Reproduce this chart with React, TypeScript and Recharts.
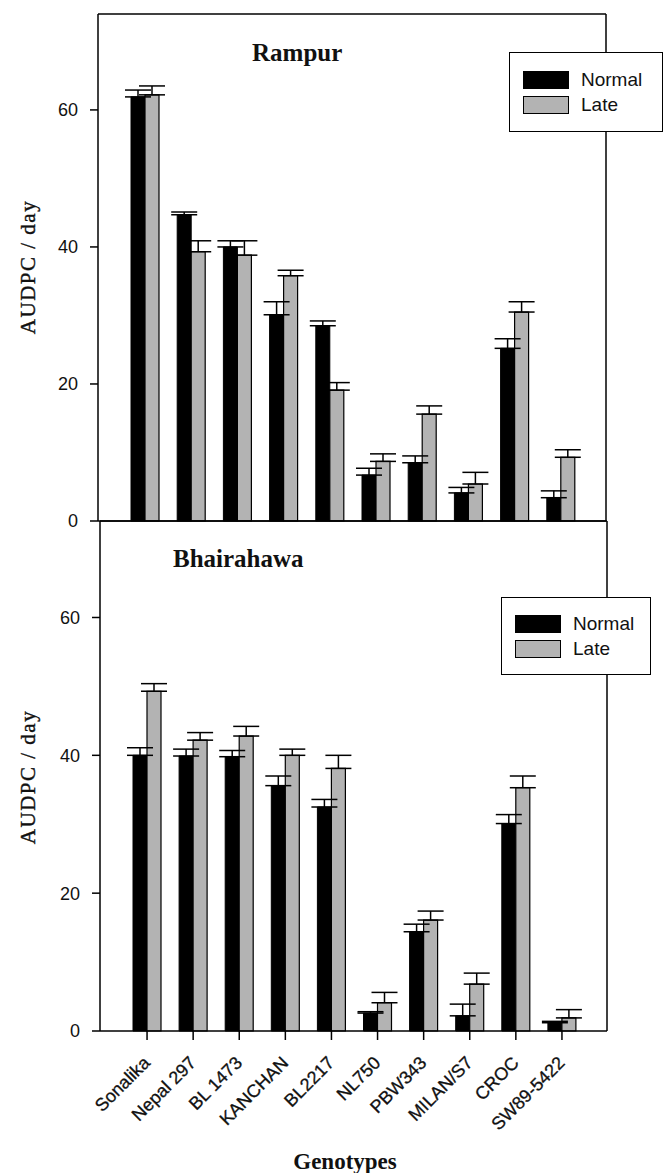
import React from 'react';
import { Bar, BarChart, CartesianGrid, ErrorBar, Legend, XAxis, YAxis } from 'recharts';

const genotypes = ['Sonalika', 'Nepal 297', 'BL 1473', 'KANCHAN', 'BL2217', 'NL750', 'PBW343', 'MILAN/S7', 'CROC', 'SW89-5422'];

// Rampur
const rampurNormal = [61.9, 44.7, 40.0, 30.1, 28.5, 6.7, 8.5, 4.1, 25.2, 3.4];
const rampurNormalErr = [1.0, 0.4, 0.9, 1.9, 0.7, 1.0, 1.0, 0.8, 1.4, 1.0];
const rampurLate = [62.2, 39.3, 38.8, 35.8, 19.1, 8.7, 15.6, 5.4, 30.5, 9.3];
const rampurLateErr = [1.3, 1.6, 2.1, 0.8, 1.1, 1.1, 1.2, 1.7, 1.5, 1.1];

// Bhairahawa
const bhaiNormal = [40.0, 39.9, 39.8, 35.6, 32.5, 2.6, 14.4, 2.2, 30.1, 1.2];
const bhaiNormalErr = [1.1, 1.0, 0.9, 1.4, 1.1, 0.2, 1.1, 1.7, 1.3, 0.2];
const bhaiLate = [49.3, 42.2, 42.8, 40.0, 38.1, 4.1, 16.1, 6.8, 35.3, 1.9];
const bhaiLateErr = [1.1, 1.1, 1.4, 0.9, 1.9, 1.5, 1.3, 1.6, 1.7, 1.2];

const yTicks = [0, 20, 40, 60];
const yMax = 74;

const SANS = '"Liberation Sans", Arial, sans-serif';
const SERIF = '"Liberation Serif", "Times New Roman", serif';
const LATE_FILL = '#b3b3b3';

const build = (normal: number[], normalErr: number[], late: number[], lateErr: number[]) =>
  genotypes.map((g, i) => ({
    name: g,
    normal: normal[i],
    normalErr: [0, normalErr[i]],
    late: late[i],
    lateErr: [0, lateErr[i]],
  }));

const rampurData = build(rampurNormal, rampurNormalErr, rampurLate, rampurLateErr);
const bhaiData = build(bhaiNormal, bhaiNormalErr, bhaiLate, bhaiLateErr);

const LegendBox = ({ pad }: { pad: number }) => (
  <div
    style={{
      border: '1.5px solid #000',
      background: '#fff',
      padding: `${pad}px 0 ${pad}px 13px`,
      fontFamily: SANS,
      fontSize: 19,
      color: '#111',
      boxSizing: 'border-box',
    }}
  >
    {[
      { label: 'Normal', fill: '#000' },
      { label: 'Late', fill: LATE_FILL },
    ].map((item) => (
      <div key={item.label} style={{ display: 'flex', alignItems: 'center', height: 25 }}>
        <span style={{ width: 44, height: 16, background: item.fill, border: '1px solid #000', marginRight: 12 }} />
        <span>{item.label}</span>
      </div>
    ))}
  </div>
);

const GenotypeTick = (props: any) => {
  const { x, y, payload } = props;
  return (
    <g transform={`translate(${x + 4},${y + 24})`}>
      <text textAnchor="end" transform="rotate(-45)" fontSize={18} fontFamily={SANS} fill="#111" stroke="#111" strokeWidth={0.3}>
        {payload.value}
      </text>
    </g>
  );
};

// top and right edges of the plot box
const frameTop = ({ offset }: any) => [offset.top];
const frameRight = ({ offset }: any) => [offset.left + offset.width];

const Panel = ({ data, height, margin, yWidth, xHeight, legendPos, bottom }: any) => (
  <BarChart width={666} height={height} data={data} margin={margin} barGap={0} barSize={14}>
    <CartesianGrid
      stroke="#000"
      strokeWidth={1.5}
      horizontalCoordinatesGenerator={frameTop}
      verticalCoordinatesGenerator={frameRight}
    />
    <XAxis
      dataKey="name"
      height={xHeight}
      interval={0}
      padding={{ left: 24, right: 22 }}
      axisLine={{ stroke: '#000', strokeWidth: 1.5 }}
      tickLine={{ stroke: '#000', strokeWidth: 1.5 }}
      tickSize={bottom ? 9 : 6}
      tickMargin={0}
      tick={bottom ? <GenotypeTick /> : false}
    />
    <YAxis
      width={yWidth}
      domain={[0, yMax]}
      ticks={yTicks}
      interval={0}
      axisLine={{ stroke: '#000', strokeWidth: 1.5 }}
      tickLine={{ stroke: '#000', strokeWidth: 1.5 }}
      tickSize={8}
      tickMargin={12}
      tick={{ fontSize: 18, fontFamily: SANS, fill: '#111' }}
    />
    <Legend
      layout="horizontal"
      verticalAlign="middle"
      align="center"
      wrapperStyle={{ position: 'absolute', left: legendPos.left, top: legendPos.top, width: legendPos.width }}
      content={() => <LegendBox pad={legendPos.pad} />}
    />
    <Bar dataKey="normal" name="Normal" fill="#000" stroke="#000" strokeWidth={1} isAnimationActive={false}>
      <ErrorBar dataKey="normalErr" direction="y" width={13} stroke="#000" strokeWidth={1.5} isAnimationActive={false} />
    </Bar>
    <Bar dataKey="late" name="Late" fill={LATE_FILL} stroke="#000" strokeWidth={1.2} isAnimationActive={false}>
      <ErrorBar dataKey="lateErr" direction="y" width={13} stroke="#000" strokeWidth={1.5} isAnimationActive={false} />
    </Bar>
  </BarChart>
);

export default function App() {
  return (
    <div style={{ position: 'absolute', left: 0, top: 0, width: 666, height: 1173, background: '#fff', overflow: 'hidden' }}>
      <div style={{ position: 'absolute', left: 0, top: 0 }}>
        <Panel
          data={rampurData}
          height={530}
          margin={{ top: 14, right: 60, bottom: 0, left: 0 }}
          yWidth={98}
          xHeight={9}
          legendPos={{ left: 509, top: 52, width: 154, pad: 14 }}
          bottom={false}
        />
      </div>
      <div style={{ position: 'absolute', left: 0, top: 500 }}>
        <Panel
          data={bhaiData}
          height={673}
          margin={{ top: 21, right: 59, bottom: 0, left: 0 }}
          yWidth={100}
          xHeight={142}
          legendPos={{ left: 501, top: 97, width: 150, pad: 13 }}
          bottom
        />
      </div>
      <svg width={666} height={1173} style={{ position: 'absolute', left: 0, top: 0, pointerEvents: 'none' }}>
        <text x={252} y={61} fontFamily={SERIF} fontWeight="bold" fontSize={25} fill="#111">Rampur</text>
        <text x={173} y={567} fontFamily={SERIF} fontWeight="bold" fontSize={25} fill="#111">Bhairahawa</text>
        <text x={35} y={267} transform="rotate(-90, 35, 267)" textAnchor="middle" fontFamily={SERIF} fontSize={21} letterSpacing={1.5} fill="#111" stroke="#111" strokeWidth={0.4}>AUDPC / day</text>
        <text x={35} y={777} transform="rotate(-90, 35, 777)" textAnchor="middle" fontFamily={SERIF} fontSize={21} letterSpacing={1.5} fill="#111" stroke="#111" strokeWidth={0.4}>AUDPC / day</text>
        <text x={345} y={1169} textAnchor="middle" fontFamily={SERIF} fontWeight="bold" fontSize={23} fill="#111">Genotypes</text>
      </svg>
    </div>
  );
}
